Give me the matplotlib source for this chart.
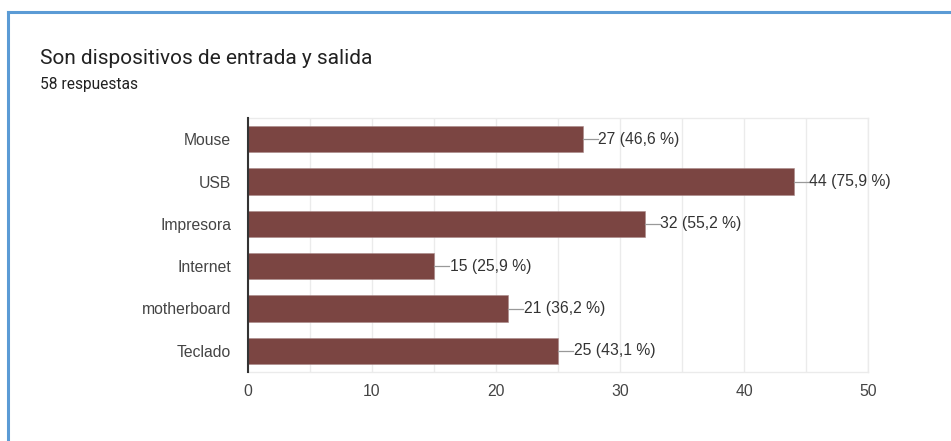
import matplotlib
matplotlib.use("Agg")
import matplotlib.pyplot as plt

plt.rcParams["font.family"] = ["Liberation Sans", "DejaVu Sans"]

categories = ["Mouse", "USB", "Impresora", "Internet", "motherboard", "Teclado"]
counts = [27, 44, 32, 15, 21, 25]
percents = ["46,6", "75,9", "55,2", "25,9", "36,2", "43,1"]
x_ticks = [0, 10, 20, 30, 40, 50]
title = "Son dispositivos de entrada y salida"
subtitle = "58 respuestas"

W, H = 951, 441
fig = plt.figure(figsize=(W / 100, H / 100), dpi=100)
fig.patch.set_facecolor("white")

# card border (top and left blue edges)
fig.add_artist(plt.Line2D([8 / W, 1], [1 - 12 / H, 1 - 12 / H], color="#5b9bd5", lw=2.2))
fig.add_artist(plt.Line2D([8 / W, 8 / W], [0, 1 - 12 / H], color="#5b9bd5", lw=2.2))

fig.text(40 / W, 1 - 59 / H, title, fontsize=15, color="#212121",
         family="Roboto", va="center", ha="left")
fig.text(40 / W, 1 - 84 / H, subtitle, fontsize=11.2, color="#212121",
         family="Roboto", va="center", ha="left")

ax = fig.add_axes([248 / W, 1 - 372 / H, 620 / W, 254 / H])
y = list(range(len(categories)))
ax.barh(y, counts, height=0.62, color="#7b4542", edgecolor="#a88", linewidth=0.4, zorder=3)
ax.set_ylim(len(categories) - 0.5, -0.5)
ax.set_xlim(0, 50)

ax.set_xticks(x_ticks)
ax.set_xticks(range(5, 50, 10), minor=True)
ax.grid(axis="x", which="both", color="#ebebeb", lw=1, zorder=0)
ax.set_yticks(y)
ax.set_yticklabels(categories)
ax.tick_params(axis="both", which="both", length=0, labelsize=11.3, labelcolor="#444444")
ax.tick_params(axis="x", pad=9)
ax.tick_params(axis="y", pad=12)

for s in ["top", "right", "bottom"]:
    ax.spines[s].set_color("#ebebeb")
    ax.spines[s].set_linewidth(1)
ax.spines["left"].set_color("#333333")
ax.spines["left"].set_linewidth(1.5)
ax.spines["left"].set_zorder(4)

for yi, c, p in zip(y, counts, percents):
    ax.plot([c, c + 1.2], [yi, yi], color="#999999", lw=0.9, zorder=3, clip_on=False)
    ax.text(c + 1.25, yi, f"{c} ({p} %)", va="center", ha="left", fontsize=11.3,
            color="#333333", zorder=4)

fig.savefig("out.png", dpi=100, facecolor="white")
